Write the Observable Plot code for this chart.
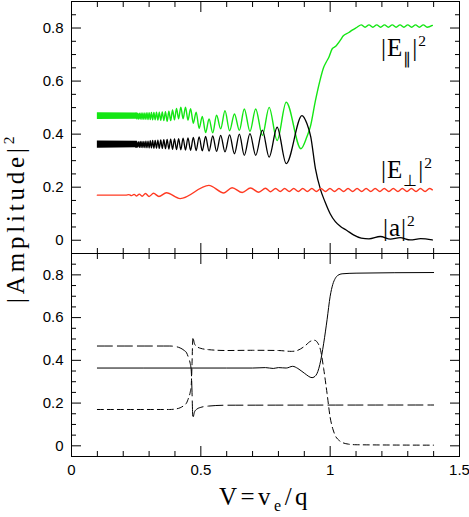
<!DOCTYPE html>
<html><head><meta charset="utf-8">
<script src="https://cdn.jsdelivr.net/npm/d3@7"></script>
<script src="https://cdn.jsdelivr.net/npm/@observablehq/plot@0.6"></script>
<style>
body{margin:0;background:#fff;}
#fig{position:relative;width:469px;height:517px;overflow:hidden;background:#fff;}
#top,#bot{position:absolute;left:0;}
#top{top:0px;}
#bot{top:252px;}
</style></head>
<body><div id="fig"><div id="top"></div><div id="bot"></div></div>
<script>
// ---------- tick values ----------
const xMajor = [0, 0.5, 1, 1.5];
const xMinor = [0.1, 0.2, 0.3, 0.4, 0.6, 0.7, 0.8, 0.9, 1.1, 1.2, 1.3, 1.4];
const yMajor = [0, 0.2, 0.4, 0.6, 0.8];
const yMinor = [0.05, 0.1, 0.15, 0.25, 0.3, 0.35, 0.45, 0.5, 0.55, 0.65, 0.7, 0.75, 0.85];

// ---------- top panel: |a|^2 (black) ----------
// fast-oscillation region (appears as a solid band)
const bandX = [0.1, 0.255];
const aBandLo = [0.347, 0.349];
const aBandHi = [0.374, 0.373];
// extrema of the resolved oscillations and the tail
const aX = [0.2496,0.2527,0.2558,0.2590,0.2622,0.2656,0.2690,0.2725,0.2762,0.2799,
  0.2837,0.2876,0.2917,0.2958,0.3001,0.3045,0.3090,0.3137,0.3185,0.3235,
  0.3286,0.3339,0.3394,0.3450,0.3509,0.3569,0.3632,0.3697,0.3764,0.3834,
  0.3906,0.3981,0.4060,0.4141,0.4226,0.4314,0.4407,0.4503,0.4604,0.4709,
  0.4819,0.4935,0.5056,0.5184,0.5318,0.5460,0.5609,0.5767,0.5934,0.6112,
  0.630,0.649,0.668,0.690,0.712,0.738,0.764,0.795,0.830,0.891,
  0.91,0.925,0.943,0.963,0.98,1.0,1.02,1.04,1.066,1.09,1.12,1.15,1.194,1.233,1.27,1.31,1.35,1.395];
const aY = [0.350,0.372,0.350,0.372,0.350,0.373,0.350,0.373,0.349,0.373,
  0.349,0.374,0.349,0.374,0.348,0.375,0.348,0.376,0.347,0.376,
  0.347,0.377,0.346,0.378,0.346,0.379,0.345,0.380,0.344,0.381,
  0.343,0.382,0.342,0.383,0.341,0.385,0.340,0.386,0.339,0.388,
  0.338,0.390,0.337,0.391,0.336,0.393,0.335,0.395,0.333,0.397,
  0.326,0.400,0.320,0.402,0.320,0.415,0.313,0.426,0.289,0.470,
  0.44,0.39,0.27,0.19,0.145,0.10,0.07,0.052,0.036,0.02,0.008,0.005,0.014,0.004,0.01,0.001,0.006,0.001];

// ---------- top panel: |E_par|^2 (green) ----------
const eParBandLo = [0.455, 0.456];
const eParBandHi = [0.481, 0.480];
const eParX = [0.2496,0.2527,0.2558,0.2590,0.2622,0.2656,0.2690,0.2725,0.2762,0.2799,
  0.2837,0.2876,0.2917,0.2958,0.3001,0.3045,0.3090,0.3137,0.3185,0.3235,
  0.3286,0.3339,0.3394,0.3450,0.3509,0.3569,0.3632,0.3697,0.3764,0.3834,
  0.3906,0.3981,0.4060,0.4141,0.4226,0.4314,0.4407,0.4503,0.4604,0.4709,
  0.4819,0.4935,0.5056,0.5184,0.5318,0.5460,0.5609,0.5767,0.5934,0.6112,
  0.630,0.649,0.668,0.690,0.712,0.738,0.764,0.795,0.830,0.887,
  0.91,0.924,0.943,0.96,0.975,0.985,0.995,1.008,1.02,1.04,1.05,1.072,1.085,1.104,
  1.12,1.135,1.15,1.165,1.18,1.195,1.21,1.225,1.24,1.255,1.27,1.285,1.30,1.315,1.33,1.345,1.36,1.375,1.395];
const eParY = [0.479,0.457,0.479,0.457,0.479,0.457,0.480,0.456,0.480,0.456,
  0.480,0.456,0.481,0.455,0.481,0.455,0.482,0.454,0.482,0.454,
  0.483,0.453,0.483,0.452,0.484,0.451,0.485,0.448,0.486,0.451,
  0.491,0.454,0.497,0.458,0.502,0.458,0.502,0.453,0.496,0.441,
  0.483,0.422,0.467,0.406,0.457,0.405,0.471,0.420,0.488,0.413,
  0.476,0.414,0.495,0.410,0.495,0.395,0.501,0.376,0.520,0.345,
  0.39,0.43,0.526,0.60,0.652,0.672,0.69,0.722,0.73,0.755,0.77,0.783,0.792,0.803,
  0.812,0.803,0.812,0.803,0.812,0.803,0.812,0.803,0.812,0.803,0.812,0.803,0.812,0.803,0.812,0.803,0.812,0.803,0.810];

// ---------- top panel: |E_perp|^2 (red) ----------
const ePerpX = [0.10,0.21,0.222,0.232,0.242,0.252,0.262,0.273,0.286,0.300,0.317,0.338,0.367,0.42,0.531,0.589,0.621,0.66,0.692,0.724,0.75,0.77,0.789,
  0.807,0.824,0.842,0.859,0.877,0.894,0.912,0.929,0.947,0.964,0.982,0.999,1.017,1.034,1.052,1.069,1.087,1.104,
  1.122,1.139,1.157,1.174,1.192,1.209,1.227,1.244,1.262,1.279,1.297,1.314,1.332,1.349,1.367,1.384,1.395];
const ePerpY = [0.170,0.170,0.172,0.168,0.173,0.167,0.174,0.166,0.176,0.165,0.177,0.165,0.179,0.157,0.207,0.178,0.198,0.180,0.197,0.181,0.196,0.183,0.195,
  0.184,0.195,0.184,0.195,0.184,0.195,0.184,0.195,0.184,0.195,0.184,0.195,0.184,0.195,0.184,0.195,0.184,0.195,
  0.184,0.195,0.184,0.195,0.184,0.195,0.184,0.195,0.184,0.195,0.184,0.195,0.184,0.195,0.184,0.195,0.190];

// ---------- bottom panel ----------
const solidX = [0.1,0.46,0.6,0.7,0.75,0.78,0.8,0.83,0.855,0.875,0.9,0.93,0.945,0.96,0.975,0.988,1.0,1.01,1.02,1.03,1.046,1.1,1.4];
const solidY = [0.364,0.364,0.364,0.364,0.366,0.362,0.366,0.364,0.372,0.362,0.34,0.319,0.33,0.38,0.48,0.59,0.70,0.755,0.784,0.798,0.805,0.808,0.811];
const longX = [0.1,0.38,0.40,0.42,0.435,0.445,0.453,0.459,0.463,0.466,0.468,0.470,0.472,0.476,0.485,0.50,0.53,0.60,1.4];
const longY = [0.467,0.467,0.465,0.458,0.447,0.435,0.41,0.385,0.35,0.25,0.16,0.127,0.14,0.16,0.172,0.18,0.186,0.19,0.191];
const shortX = [0.1,0.38,0.40,0.42,0.435,0.445,0.453,0.459,0.463,0.466,0.468,0.470,0.472,0.476,0.485,0.50,0.53,0.60,0.70,0.80,
  0.85,0.87,0.90,0.925,0.94,0.95,0.963,0.975,0.988,1.0,1.01,1.02,1.035,1.046,1.07,1.1,1.4];
const shortY = [0.170,0.170,0.172,0.178,0.189,0.201,0.226,0.251,0.286,0.386,0.476,0.509,0.496,0.476,0.464,0.456,0.45,0.446,0.447,0.446,
  0.442,0.445,0.465,0.49,0.494,0.485,0.447,0.36,0.245,0.133,0.08,0.047,0.025,0.016,0.008,0.005,0.003];

// ---------- text ----------
const yTitle = [["|Amplitude|","n"],["2","sup"]];
const xTitle = [["V=v","n"],["e","sub"],["/q","n"]];
const labelEpar = [["|E","n"],["\u2225","sub"],["|","n"],["2","sup"]];
const labelEperp = [["|E","n"],["\u22A5","sub"],["|","n"],["2","sup"]];
const labelA = [["|a|","n"],["2","sup"]];

// ---------- styles ----------
const GREEN = "#14e614";
const RED = "#ff3a22";
const W = 469;

const rows = (xs, ys) => xs.map((x, i) => ({x, y: ys[i]}));
const bandRows = (lo, hi) => bandX.map((x, i) => ({x, lo: lo[i], hi: hi[i]}));
const fmtY = d => d === 0 ? "0" : d.toFixed(1);

function scaffold(xLabels) {
  const m = [
    Plot.frame({stroke: "black", strokeWidth: 1}),
    Plot.axisY(yMinor, {anchor: "left", tickSize: 5, dx: 5, fill: "none", label: null}),
    Plot.axisY(yMajor, {anchor: "left", tickSize: 10, dx: 10, fill: "none", label: null}),
    Plot.axisY(yMinor, {anchor: "right", tickSize: 5, dx: -5, fill: "none", label: null}),
    Plot.axisY(yMajor, {anchor: "right", tickSize: 10, dx: -10, fill: "none", label: null}),
    Plot.axisX(xMinor, {anchor: "top", tickSize: 5, dy: 5, fill: "none", label: null}),
    Plot.axisX(xMajor, {anchor: "top", tickSize: 10, dy: 10, fill: "none", label: null}),
    Plot.axisX(xMinor, {anchor: "bottom", tickSize: 5, dy: -5, fill: "none", label: null}),
    Plot.axisX(xMajor, {anchor: "bottom", tickSize: 10, dy: -10, fill: "none", label: null}),
    Plot.axisY(yMajor, {anchor: "left", tickSize: 0, tickPadding: 8, tickFormat: fmtY, label: null, fontSize: 15})
  ];
  if (xLabels) m.push(Plot.axisX(xMajor, {anchor: "bottom", tickSize: 0, tickPadding: 8, tickFormat: d => String(d), label: null, fontSize: 15}));
  return m;
}

const common = {
  width: W,
  marginLeft: 71, marginRight: 10,
  x: {domain: [0, 1.5], label: null},
  y: {domain: [-0.05, 0.9], label: null},
  style: {background: "transparent", fontFamily: "'Liberation Sans', Arial, sans-serif", fontSize: "15px", color: "black"}
};

const topPlot = Plot.plot({
  ...common,
  height: 254, marginTop: 1, marginBottom: 1,
  marks: [
    Plot.areaY(bandRows(eParBandLo, eParBandHi), {x: "x", y1: "lo", y2: "hi", fill: GREEN}),
    Plot.areaY(bandRows(aBandLo, aBandHi), {x: "x", y1: "lo", y2: "hi", fill: "black"}),
    Plot.line(rows(eParX, eParY), {x: "x", y: "y", stroke: GREEN, strokeWidth: 1.4, curve: "monotone-x"}),
    Plot.line(rows(aX, aY), {x: "x", y: "y", stroke: "black", strokeWidth: 1.3, curve: "monotone-x"}),
    Plot.line(rows(ePerpX, ePerpY), {x: "x", y: "y", stroke: RED, strokeWidth: 1.4, curve: "monotone-x"}),
    ...scaffold(false)
  ]
});
document.getElementById("top").appendChild(topPlot);

const botPlot = Plot.plot({
  ...common,
  height: 265, marginTop: 1, marginBottom: 61,
  marks: [
    Plot.line(rows(solidX, solidY), {x: "x", y: "y", stroke: "black", strokeWidth: 1, curve: "monotone-x"}),
    Plot.line(rows(longX, longY), {x: "x", y: "y", stroke: "black", strokeWidth: 1, strokeDasharray: "15,5", curve: "monotone-x"}),
    Plot.line(rows(shortX, shortY), {x: "x", y: "y", stroke: "black", strokeWidth: 1, strokeDasharray: "6,4", curve: "monotone-x"}),
    ...scaffold(true)
  ]
});
document.getElementById("bot").appendChild(botPlot);

// ---------- overlay text (titles and series labels) ----------
const ov = d3.select("#fig").append("svg")
  .attr("width", W).attr("height", 517)
  .style("position", "absolute").style("left", 0).style("top", 0)
  .style("pointer-events", "none")
  .style("font-family", "'Liberation Serif', 'Times New Roman', serif");

function addText(parts, x, y, {rotate = 0, size = 25, spacing = 0, anchor = "start", sub = 0.3} = {}) {
  const t = ov.append("text")
    .attr("transform", `translate(${x},${y}) rotate(${rotate})`)
    .attr("text-anchor", anchor)
    .attr("font-size", size)
    .attr("letter-spacing", spacing)
    .attr("fill", "black");
  let shift = 0;
  for (const [s, kind] of parts) {
    let target = 0, fs = size;
    if (kind === "sub") { target = size * sub; fs = size * 0.64; }
    if (kind === "sup") { target = -size * 0.42; fs = size * 0.62; }
    t.append("tspan").attr("dy", target - shift).attr("font-size", fs).text(s);
    shift = target;
  }
  return t;
}

addText(yTitle, 24, 303, {rotate: -90, size: 25, spacing: 3.8});
addText(xTitle, 265, 505, {size: 25, spacing: 3.5, anchor: "middle", sub: 0.24});
addText(labelEpar, 381, 56, {size: 25, spacing: 1});
addText(labelEperp, 381, 178, {size: 25, spacing: 1});
addText(labelA, 383, 236, {size: 25, spacing: 1});
</script>
</body></html>
